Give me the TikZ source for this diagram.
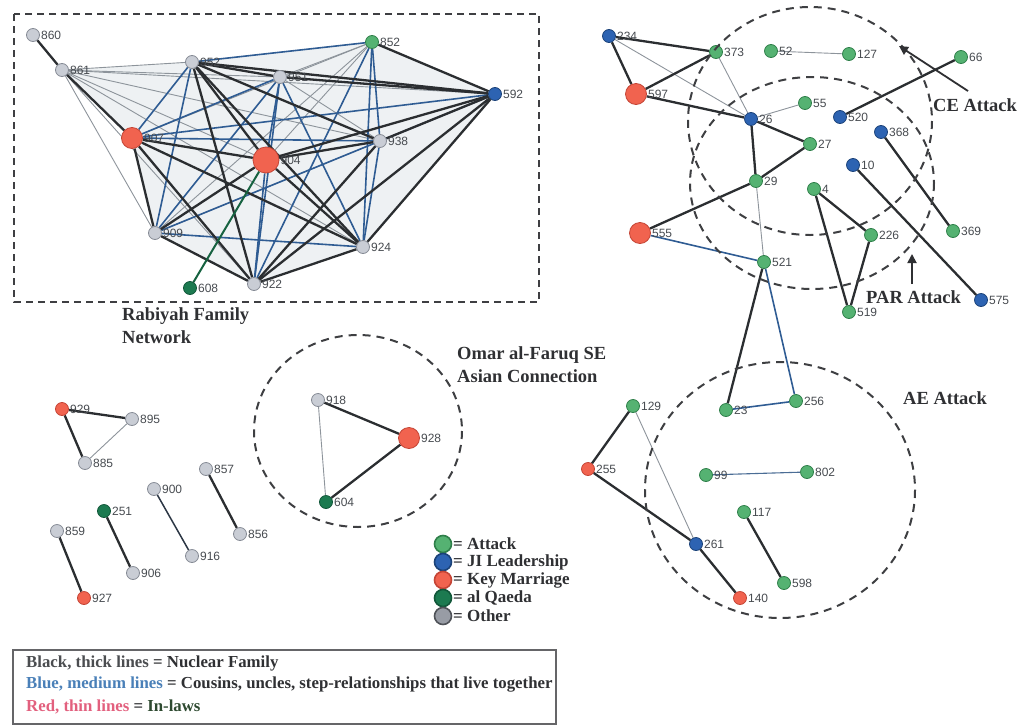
\documentclass[tikz,border=0pt]{standalone}
\usepackage{fontspec}
\setmainfont{Liberation Serif}
\newfontfamily\numfont{Liberation Sans}
\usetikzlibrary{arrows.meta}
\pgfdeclarelayer{bg}
\pgfsetlayers{bg,main}

\definecolor{attackc}{HTML}{55B272}
\definecolor{attackd}{HTML}{2F7F4A}
\definecolor{jic}{HTML}{2D63B2}
\definecolor{jid}{HTML}{1C4379}
\definecolor{keyc}{HTML}{F1634F}
\definecolor{keyd}{HTML}{C44536}
\definecolor{aqc}{HTML}{1C7A50}
\definecolor{aqd}{HTML}{12573A}
\definecolor{othc}{HTML}{C9CDD5}
\definecolor{othd}{HTML}{868B95}
\definecolor{cnuc}{HTML}{2B2E31}
\definecolor{ccous}{HTML}{2F5C93}
\definecolor{cinlaw}{HTML}{8D949B}
\definecolor{numtxt}{HTML}{474B50}
\definecolor{boldtxt}{HTML}{2F3033}
\definecolor{haze}{HTML}{EEF1F3}
\definecolor{frame}{HTML}{3E3F42}
\definecolor{keyblue}{HTML}{4A80B8}
\definecolor{keyred}{HTML}{E2607E}
\definecolor{keygreen}{HTML}{2E4A30}

\tikzset{
  vtx/.style={circle, inner sep=0pt, minimum size=13pt, line width=0.8pt,
    label distance=0pt},
  attack/.style={vtx, fill=attackc, draw=attackd},
  jil/.style={vtx, fill=jic, draw=jid},
  keym/.style={vtx, fill=keyc, draw=keyd},
  aq/.style={vtx, fill=aqc, draw=aqd},
  oth/.style={vtx, fill=othc, draw=othd},
  big/.style={minimum size=21pt},
  huge/.style={minimum size=26pt},
  num/.style={font=\numfont\fontsize{12}{12}\selectfont, text=numtxt, inner sep=1pt},
  edgeN/.style={draw=cnuc, line width=2.3pt},
  edgeB/.style={draw=ccous, line width=1.6pt},
  edgeG/.style={draw=cinlaw, line width=0.9pt},
  edgeQ/.style={draw=aqc!80!black, line width=2pt},
  grp/.style={draw=frame, line width=2pt, dash pattern=on 8pt off 6pt},
  head/.style={font=\bfseries\fontsize{18.5}{23}\selectfont, text=boldtxt, inner sep=0pt},
  legtxt/.style={font=\bfseries\fontsize{17}{17}\selectfont, text=boldtxt, inner sep=0pt, anchor=west},
  legdot/.style={circle, inner sep=0pt, minimum size=17pt, line width=1.6pt},
  keytxt/.style={font=\bfseries\fontsize{16.8}{17}\selectfont, text=boldtxt, inner sep=0pt, anchor=west},
  pointer/.style={draw=boldtxt, line width=1.8pt, -{Triangle[length=9pt,width=9pt]}}
}

\begin{document}
\begin{tikzpicture}[x=1pt, y=-1pt]
\useasboundingbox (0,0) rectangle (1023,726);

% ---------------- Rabiyah family network ----------------
\node[oth, label={[num]0:860}] (n860) at (33,35) {};
\node[oth, label={[num]0:861}] (n861) at (62,70) {};
\node[oth, label={[num]0:952}] (n952) at (192,62) {};
\node[oth, label={[num]0:951}] (n951) at (280,77) {};
\node[attack, label={[num]0:852}] (n852) at (372,42) {};
\node[jil, label={[num]0:592}] (n592) at (495,94) {};
\node[keym, big, label={[num]0:907}] (n907) at (132,138) {};
\node[keym, huge, label={[num]0:904}] (n904) at (266,160) {};
\node[oth, label={[num]0:938}] (n938) at (380,141) {};
\node[oth, label={[num]0:909}] (n909) at (155,233) {};
\node[aq, label={[num]0:608}] (n608) at (190,288) {};
\node[oth, label={[num]0:922}] (n922) at (254,284) {};
\node[oth, label={[num]0:924}] (n924) at (363,247) {};

\begin{pgfonlayer}{bg}
  \fill[haze] (n861.center) -- (n952.center) -- (n852.center) -- (n592.center)
    -- (n924.center) -- (n922.center) -- (n909.center) -- (n907.center) -- cycle;
  \foreach \a/\b in {861/952, 861/951, 861/592, 861/938, 861/904, 861/909,
      861/924, 861/922, 951/852, 951/938, 852/907, 852/904, 852/909, 909/938}
    \draw[edgeG] (n\a) -- (n\b);
  \foreach \a/\b in {952/852, 952/907, 952/909, 951/907, 951/904, 951/909,
      951/922, 951/924, 852/938, 852/922, 852/924, 592/907, 592/909, 907/938,
      904/922, 938/924, 909/924}
    \draw[edgeB] (n\a) -- (n\b);
  \foreach \a/\b in {860/861, 861/907, 952/951, 952/592, 952/904, 952/938,
      952/922, 952/924, 951/592, 852/592, 592/904, 592/938, 592/922, 592/924,
      907/904, 907/909, 907/922, 907/924, 904/938, 904/909, 904/924, 938/922,
      909/922, 922/924}
    \draw[edgeN] (n\a) -- (n\b);
  \draw[edgeQ] (n608) -- (n904);
\end{pgfonlayer}

\draw[draw=frame, line width=2.2pt, dash pattern=on 7pt off 5pt] (14,14) rectangle (539,302);
\node[head, anchor=north west, align=left] (rabiyah) at (122,307) {Rabiyah Family\\Network};

% ---------------- CE / PAR attack cluster ----------------
\node[jil, label={[num]0:234}] (n234) at (609,36) {};
\node[attack, label={[num]0:373}] (n373) at (716,52) {};
\node[attack, label={[num]0:52}] (n52) at (771,51) {};
\node[attack, label={[num]0:127}] (n127) at (849,54) {};
\node[attack, label={[num]0:66}] (n66) at (961,57) {};
\node[keym, big, label={[num]0:597}] (n597) at (636,94) {};
\node[jil, label={[num]0:26}] (n26) at (751,119) {};
\node[attack, label={[num]0:55}] (n55) at (805,103) {};
\node[jil, label={[num]0:520}] (n520) at (840,117) {};
\node[jil, label={[num]0:368}] (n368) at (881,132) {};
\node[attack, label={[num]0:27}] (n27) at (810,144) {};
\node[jil, label={[num]0:10}] (n10) at (853,165) {};
\node[attack, label={[num]0:29}] (n29) at (756,181) {};
\node[attack, label={[num]0:4}] (n4) at (814,189) {};
\node[keym, big, label={[num]0:555}] (n555) at (640,233) {};
\node[attack, label={[num]0:226}] (n226) at (871,235) {};
\node[attack, label={[num]0:369}] (n369) at (953,231) {};
\node[attack, label={[num]0:521}] (n521) at (764,262) {};
\node[attack, label={[num]0:519}] (n519) at (849,312) {};
\node[jil, label={[num]0:575}] (n575) at (981,300) {};

% ---------------- AE attack cluster ----------------
\node[attack, label={[num]0:129}] (n129) at (633,406) {};
\node[keym, label={[num]0:255}] (n255) at (588,469) {};
\node[attack, label={[num]0:23}] (n23) at (726,410) {};
\node[attack, label={[num]0:256}] (n256) at (796,401) {};
\node[attack, label={[num]0:99}] (n99) at (706,475) {};
\node[attack, label={[num]0:802}] (n802) at (807,472) {};
\node[attack, label={[num]0:117}] (n117) at (744,512) {};
\node[jil, label={[num]0:261}] (n261) at (696,544) {};
\node[attack, label={[num]0:598}] (n598) at (784,583) {};
\node[keym, label={[num]0:140}] (n140) at (740,598) {};

% ---------------- small family groups ----------------
\node[keym, label={[num]0:929}] (n929) at (62,409) {};
\node[oth, label={[num]0:895}] (n895) at (132,419) {};
\node[oth, label={[num]0:885}] (n885) at (85,463) {};
\node[oth, label={[num]0:857}] (n857) at (206,469) {};
\node[oth, label={[num]0:900}] (n900) at (154,489) {};
\node[aq, label={[num]0:251}] (n251) at (104,511) {};
\node[oth, label={[num]0:859}] (n859) at (57,531) {};
\node[oth, label={[num]0:856}] (n856) at (240,534) {};
\node[oth, label={[num]0:916}] (n916) at (192,556) {};
\node[oth, label={[num]0:906}] (n906) at (133,573) {};
\node[keym, label={[num]0:927}] (n927) at (84,598) {};

% ---------------- Omar al-Faruq group ----------------
\node[oth, label={[num]0:918}] (n918) at (318,400) {};
\node[keym, big, label={[num]0:928}] (n928) at (409,438) {};
\node[aq, label={[num]0:604}] (n604) at (326,502) {};

\begin{pgfonlayer}{bg}
  \foreach \a/\b in {234/26, 373/26, 26/55, 29/521, 52/127, 129/261,
      895/885, 918/604}
    \draw[edgeG] (n\a) -- (n\b);
  \foreach \a/\b in {555/521, 521/256, 23/256}
    \draw[edgeB] (n\a) -- (n\b);
  \draw[draw=ccous!70!cinlaw, line width=1.1pt] (n99) -- (n802);
  \draw[draw=cnuc!80!ccous, line width=1.5pt] (n900) -- (n916);
  \foreach \a/\b in {234/373, 234/597, 597/373, 597/26, 26/27, 26/29, 27/29,
      29/555, 66/520, 368/369, 10/575, 4/226, 4/519, 226/519, 521/23,
      129/255, 255/261, 261/140, 117/598, 929/895, 929/885, 857/856,
      251/906, 859/927, 918/928, 928/604}
    \draw[edgeN] (n\a) -- (n\b);
\end{pgfonlayer}

% group outlines
\draw[grp] (810,121) ellipse [x radius=122, y radius=114];
\draw[grp] (812,183) ellipse [x radius=122, y radius=106];
\draw[grp] (780,490) ellipse [x radius=135, y radius=128];
\draw[grp] (358,431) ellipse [x radius=104, y radius=96];

% group captions and pointers
\node[head, anchor=west] (ce) at (933,105) {CE Attack};
\node[head, anchor=west] (par) at (866,297) {PAR Attack};
\node[head, anchor=west] (ae) at (903,398) {AE Attack};
\node[head, anchor=north west, align=left] (omar) at (457,346)
  {Omar al-Faruq SE\\Asian Connection};
\coordinate (ceTail) at (968,91);
\coordinate (ceTip) at (899,46);
\coordinate (parTail) at (912,284);
\coordinate (parTip) at (912,254);
\draw[pointer] (ceTail) -- (ceTip);
\draw[pointer] (parTail) -- (parTip);

% node colour key
\node[legdot, fill=attackc, draw=attackd] (kA) at (443,544) {};
\node[legdot, fill=jic, draw=jid] (kJ) at (443,562) {};
\node[legdot, fill=keyc, draw=keyd] (kK) at (443,580) {};
\node[legdot, fill=aqc, draw=aqd] (kQ) at (443,598) {};
\node[legdot, fill=othd!85!white, draw=othd!60!black] (kO) at (443,616) {};
\node[legtxt] (tA) at (453,544) {= Attack};
\node[legtxt] (tJ) at (453,562) {= JI Leadership};
\node[legtxt] (tK) at (453,580) {= Key Marriage};
\node[legtxt] (tQ) at (453,598) {= al Qaeda};
\node[legtxt] (tO) at (453,616) {= Other};

% line style key
\draw[draw=frame!80!white, line width=1.6pt] (13,650) rectangle (556,724);
\node[keytxt] (l1) at (26,663) {{\color{cnuc!85!white}Black, thick lines} = Nuclear Family};
\node[keytxt] (l2) at (26,685) {{\color{keyblue}Blue, medium lines} = Cousins, uncles, step-relationships that live together};
\node[keytxt] (l3) at (26,707) {{\color{keyred}Red, thin lines} = {\color{keygreen}In-laws}};
\end{tikzpicture}
\end{document}
